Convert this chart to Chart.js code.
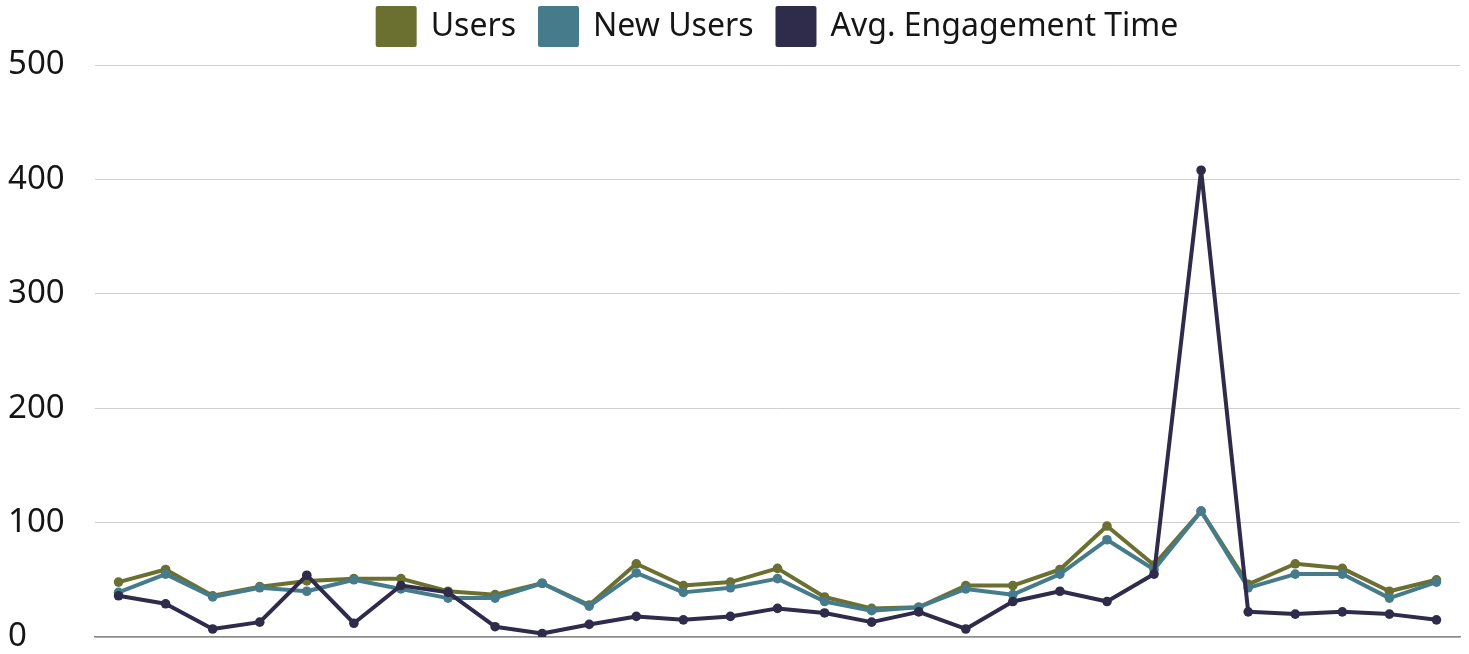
<!DOCTYPE html>
<html>
<head>
<meta charset="utf-8">
<script src="https://cdn.jsdelivr.net/npm/chart.js@4"></script>
<style>
  html, body { margin: 0; padding: 0; background: #fff; }
  #wrap { width: 1469px; height: 654px; }
</style>
</head>
<body>
<div id="wrap"><canvas id="chart"></canvas></div>
<script>
// datos
const dias = ['1','2','3','4','5','6','7','8','9','10','11','12','13','14','15',
  '16','17','18','19','20','21','22','23','24','25','26','27','28','29'];
const users = [48, 59, 36, 44, 49, 51, 51, 40, 37, 47, 28, 64, 45, 48, 60,
  35, 25, 26, 45, 45, 59, 97, 63, 110, 46, 64, 60, 40, 50];
const newUsers = [39, 55, 35, 43, 40, 50, 42, 34, 34, 47, 27, 56, 39, 43, 51,
  31, 23, 26, 42, 37, 55, 85, 59, 110, 43, 55, 55, 34, 48];
const avgEngagement = [36, 29, 7, 13, 54, 12, 45, 39, 9, 3, 11, 18, 15, 18, 25,
  21, 13, 22, 7, 31, 40, 31, 55, 408, 22, 20, 22, 20, 15];
const yTicks = [0, 100, 200, 300, 400, 500];

const FUENTE = "'Noto Sans', sans-serif";

// orden: la serie con orden menor se dibuja encima
function serie(label, data, color, orden) {
  return {
    label: label,
    data: data,
    order: orden,
    borderColor: color,
    backgroundColor: color,
    borderWidth: 4,
    borderJoinStyle: 'round',
    pointRadius: 4.8,
    pointHoverRadius: 4.8,
    pointBackgroundColor: color,
    pointBorderWidth: 0,
    tension: 0
  };
}

// la leyenda: menos alto y centrada sobre el area del grafico
const ajusteLeyenda = {
  id: 'ajusteLeyenda',
  beforeInit(chart) {
    const fit = chart.legend.fit;
    chart.legend.fit = function () {
      fit.call(this);
      this.height = 81;
    };
  },
  afterLayout(chart) {
    chart.legend.left += 44;
    chart.legend.right += 44;
  }
};

new Chart(document.getElementById('chart'), {
  type: 'line',
  data: {
    labels: dias,
    datasets: [
      serie('Users', users, '#6b7031', 2),
      serie('New Users', newUsers, '#467b8b', 1),
      serie('Avg. Engagement Time', avgEngagement, '#2e2c4a', 0)
    ]
  },
  plugins: [ajusteLeyenda],
  options: {
    responsive: true,
    maintainAspectRatio: false,
    animation: false,
    layout: { padding: { left: 8, right: 9, top: -16, bottom: 17 } },
    plugins: {
      legend: {
        display: true,
        position: 'top',
        labels: {
          boxWidth: 37,
          boxHeight: 37,
          padding: 24,
          color: '#151515',
          font: { family: FUENTE, size: 32 },
          sort: (a, b) => a.datasetIndex - b.datasetIndex
        }
      },
      tooltip: { enabled: false }
    },
    scales: {
      x: {
        offset: true,
        afterFit: axis => { axis.height = 0; },
        grid: { display: false, drawTicks: false },
        border: { display: true, color: '#8a8a8a', width: 1.5 },
        ticks: { display: false }
      },
      y: {
        min: 0,
        max: 500,
        afterBuildTicks: axis => { axis.ticks = yTicks.map(v => ({ value: v })); },
        afterFit: axis => {
          axis.width = 87;
          axis.paddingTop = 0;
          axis.paddingBottom = 0;
        },
        grid: { color: '#cfcfcf', lineWidth: 1, drawTicks: false },
        border: { display: false },
        ticks: {
          crossAlign: 'far',
          padding: 20,
          color: '#151515',
          font: { family: FUENTE, size: 33 }
        }
      }
    }
  }
});
</script>
</body>
</html>
